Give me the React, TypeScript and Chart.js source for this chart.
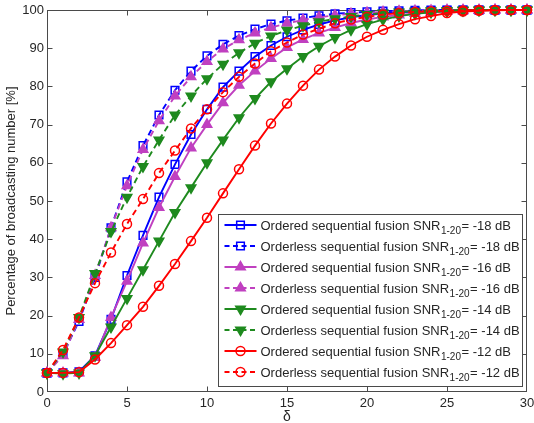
import React, { useEffect, useRef } from "react";
import { Chart, registerables } from "chart.js";

Chart.register(...registerables);

// ---- data ----
const deltaValues = [0, 1, 2, 3, 4, 5, 6, 7, 8, 9, 10, 11, 12, 13, 14, 15, 16, 17, 18, 19, 20, 21, 22, 23, 24, 25, 26, 27, 28, 29, 30];

const orderedSnr18 = [5, 5, 5.3, 9.5, 19, 30.5, 41, 51, 59.6, 67.4, 74, 79.8, 84, 87.8, 90.7, 93, 94.8, 96.2, 97.3, 98.1, 98.7, 99.1, 99.4, 99.6, 99.8, 99.9, 100, 100, 100, 100, 100];
const orderlessSnr18 = [5, 10, 18.5, 30, 43, 55, 64.5, 72.5, 79, 84, 88, 91, 93.3, 95, 96.3, 97.2, 97.9, 98.5, 99, 99.3, 99.5, 99.7, 99.8, 99.9, 100, 100, 100, 100, 100, 100, 100];
const orderedSnr16 = [5, 5, 5, 9, 19.5, 29, 39, 48.3, 56.4, 63.9, 70, 75.7, 80.3, 84, 87.3, 90.2, 92.3, 94, 95.4, 96.6, 97.5, 98.2, 98.7, 99.1, 99.4, 99.6, 99.8, 99.9, 100, 100, 100];
const orderlessSnr16 = [5, 9.5, 19, 30.5, 43, 54, 63.5, 71, 77.5, 82.5, 86.5, 89.8, 92.2, 94, 95.4, 96.5, 97.4, 98.1, 98.6, 99, 99.3, 99.5, 99.7, 99.8, 99.9, 100, 100, 100, 100, 100, 100];
const orderedSnr14 = [5, 4.8, 5, 9.5, 17, 24.5, 32, 39.5, 47, 53.5, 60, 66, 71.8, 76.8, 81.2, 84.6, 87.8, 90.5, 92.8, 94.8, 96.3, 97.5, 98.4, 99, 99.4, 99.7, 99.85, 99.95, 100, 100, 100];
const orderlessSnr14 = [5, 10.5, 19.5, 31, 42, 51, 59, 66, 72.5, 77.5, 82, 85.8, 88.8, 91.3, 93.2, 94.7, 95.9, 96.9, 97.7, 98.3, 98.8, 99.2, 99.5, 99.7, 99.8, 99.9, 100, 100, 100, 100, 100];
const orderedSnr12 = [5, 5, 5.2, 8.5, 12.8, 17.5, 22.3, 27.8, 33.5, 39.5, 45.6, 52, 58.3, 64.5, 70.3, 75.5, 80.2, 84.4, 87.8, 90.7, 93, 94.8, 96.3, 97.6, 98.4, 99.2, 99.6, 99.8, 99.9, 100, 100];
const orderlessSnr12 = [5, 11, 19.5, 28.5, 36.5, 44, 50.5, 57.3, 63.2, 69, 74, 78.5, 82.5, 86, 89.2, 91.5, 93.6, 95.1, 96.5, 97.5, 98.2, 98.8, 99.2, 99.5, 99.7, 99.8, 99.9, 100, 100, 100, 100];

const methodLabels = ["Ordered sequential fusion", "Orderless sequential fusion"];
const snrLabels = ["-18", "-16", "-14", "-12"];
const snrSubscript = "1-20";
const xTitle = "\u03b4";
const yTitle = "Percentage of broadcasting number [%]";

// ---- styles ----
const FONT = "'Liberation Sans', Arial, Helvetica, sans-serif";
const TEXT = "#262626";
const AXIS = "#4a4a4a";

type MarkerKind = "rect" | "triangle" | "triangleDown" | "circle";
const snrStyles: { color: string; marker: MarkerKind; filled: boolean }[] = [
  { color: "#0000ff", marker: "rect", filled: false },
  { color: "#c040c0", marker: "triangle", filled: true },
  { color: "#1e8a1e", marker: "triangleDown", filled: true },
  { color: "#ff0000", marker: "circle", filled: false },
];

const seriesList = [
  { method: 0, snr: 0, values: orderedSnr18 },
  { method: 1, snr: 0, values: orderlessSnr18 },
  { method: 0, snr: 1, values: orderedSnr16 },
  { method: 1, snr: 1, values: orderlessSnr16 },
  { method: 0, snr: 2, values: orderedSnr14 },
  { method: 1, snr: 2, values: orderlessSnr14 },
  { method: 0, snr: 3, values: orderedSnr12 },
  { method: 1, snr: 3, values: orderlessSnr12 },
];

const DASH = [6, 4];
const LINE_W = 1.9;

function markerRadius(m: MarkerKind) {
  if (m === "rect") return 5.4;
  if (m === "circle") return 4.5;
  return 5.5;
}

function drawMarker(ctx: CanvasRenderingContext2D, m: MarkerKind, x: number, y: number, color: string, filled: boolean) {
  ctx.save();
  ctx.setLineDash([]);
  ctx.strokeStyle = color;
  ctx.fillStyle = color;
  ctx.lineWidth = 1.5;
  ctx.beginPath();
  const r = markerRadius(m);
  if (m === "rect") {
    const s = r * Math.SQRT1_2;
    ctx.rect(x - s, y - s, 2 * s, 2 * s);
  } else if (m === "circle") {
    ctx.arc(x, y, r, 0, Math.PI * 2);
  } else {
    const sg = m === "triangle" ? 1 : -1;
    ctx.moveTo(x, y - sg * r);
    ctx.lineTo(x + r * 0.866, y + sg * r * 0.5);
    ctx.lineTo(x - r * 0.866, y + sg * r * 0.5);
    ctx.closePath();
  }
  if (filled) ctx.fill();
  ctx.stroke();
  ctx.restore();
}

const framePlugin = {
  id: "matlabFrame",
  beforeDatasetsDraw(chart: any) {
    const { ctx, chartArea, scales } = chart;
    const l = Math.round(chartArea.left) + 0.5;
    const r = Math.round(chartArea.right) - 0.5;
    const t = Math.round(chartArea.top) + 0.5;
    const b = Math.round(chartArea.bottom) - 0.5;
    ctx.save();
    ctx.fillStyle = "#ffffff";
    ctx.fillRect(l, t, r - l, b - t);
    ctx.strokeStyle = AXIS;
    ctx.lineWidth = 1;
    ctx.strokeRect(l, t, r - l, b - t);
    const tl = 5;
    ctx.beginPath();
    scales.x.ticks.forEach((tk: any) => {
      const px = Math.round(scales.x.getPixelForValue(tk.value)) + 0.5;
      if (px <= l + 1 || px >= r - 1) return;
      ctx.moveTo(px, b); ctx.lineTo(px, b - tl);
      ctx.moveTo(px, t); ctx.lineTo(px, t + tl);
    });
    scales.y.ticks.forEach((tk: any) => {
      const py = Math.round(scales.y.getPixelForValue(tk.value)) + 0.5;
      if (py <= t + 1 || py >= b - 1) return;
      ctx.moveTo(l, py); ctx.lineTo(l + tl, py);
      ctx.moveTo(r, py); ctx.lineTo(r - tl, py);
    });
    ctx.stroke();
    ctx.restore();
  },
};

const legendPlugin = {
  id: "boxLegend",
  afterDatasetsDraw(chart: any) {
    const { ctx, chartArea } = chart;
    const w = 304;
    const h = 172;
    const x0 = Math.round(chartArea.right) - 5 - w + 0.5;
    const y0 = Math.round(chartArea.bottom) - 6 - h + 0.5;
    ctx.save();
    ctx.fillStyle = "#ffffff";
    ctx.fillRect(x0, y0, w, h);
    ctx.strokeStyle = AXIS;
    ctx.lineWidth = 1;
    ctx.strokeRect(x0, y0, w, h);
    seriesList.forEach((s, i) => {
      const st = snrStyles[s.snr];
      const cy = y0 + 10.5 + i * 21;
      const lx1 = x0 + 6;
      const lx2 = x0 + 38;
      ctx.save();
      ctx.strokeStyle = st.color;
      ctx.lineWidth = LINE_W;
      ctx.setLineDash(s.method === 1 ? [5, 3.5] : []);
      ctx.beginPath();
      ctx.moveTo(lx1, cy);
      ctx.lineTo(lx2, cy);
      ctx.stroke();
      ctx.restore();
      drawMarker(ctx, st.marker, (lx1 + lx2) / 2, cy, st.color, st.filled);
      let tx = x0 + 42;
      const base = cy + 4.6;
      ctx.fillStyle = TEXT;
      ctx.textBaseline = "alphabetic";
      ctx.textAlign = "left";
      ctx.font = `13px ${FONT}`;
      const main = `${methodLabels[s.method]} SNR`;
      ctx.fillText(main, tx, base);
      tx += ctx.measureText(main).width + 0.5;
      ctx.font = `10px ${FONT}`;
      ctx.fillText(snrSubscript, tx, base + 4);
      tx += ctx.measureText(snrSubscript).width + 0.5;
      ctx.font = `13px ${FONT}`;
      ctx.fillText(`= ${snrLabels[s.snr]} dB`, tx, base);
    });
    ctx.restore();
  },
};

export default function App() {
  const canvasRef = useRef<HTMLCanvasElement | null>(null);

  useEffect(() => {
    const canvas = canvasRef.current;
    if (!canvas) return;
    const datasets = seriesList.map((s, i) => {
      const st = snrStyles[s.snr];
      return {
        label: `${methodLabels[s.method]} SNR${snrSubscript}= ${snrLabels[s.snr]} dB`,
        data: deltaValues.map((d, k) => ({ x: d, y: s.values[k] })),
        borderColor: st.color,
        backgroundColor: st.color,
        borderWidth: LINE_W,
        borderDash: s.method === 1 ? DASH : [],
        pointStyle: st.marker === "triangleDown" ? "triangle" : st.marker,
        pointRotation: st.marker === "triangleDown" ? 180 : 0,
        pointRadius: markerRadius(st.marker),
        pointBorderWidth: 1.5,
        pointBorderColor: st.color,
        pointBackgroundColor: st.filled ? st.color : "rgba(0,0,0,0)",
        tension: 0,
        fill: false,
        clip: false as any,
        order: seriesList.length - i,
      };
    });

    const chart = new Chart(canvas, {
      type: "line",
      data: { datasets },
      options: {
        animation: false,
        responsive: false,
        events: [],
        layout: { padding: { top: 10, right: 2, left: 0, bottom: 0 } },
        plugins: { legend: { display: false }, tooltip: { enabled: false } },
        scales: {
          x: {
            type: "linear",
            min: 0,
            max: 30,
            grid: { display: false, drawTicks: false },
            border: { display: false },
            ticks: { stepSize: 5, padding: 4, color: TEXT, font: { family: FONT, size: 13 }, maxRotation: 0 },
            title: { display: true, text: xTitle, color: TEXT, font: { family: FONT, size: 14 }, padding: { top: 0, bottom: -3 } },
            afterFit: (sc: any) => {
              sc.height = 31;
              sc.paddingLeft = 0;
              sc.paddingRight = 0;
            },
          },
          y: {
            min: 0,
            max: 100,
            grid: { display: false, drawTicks: false },
            border: { display: false },
            ticks: { stepSize: 10, padding: 3, color: TEXT, font: { family: FONT, size: 13 } },
            title: { display: true, text: yTitle, color: TEXT, font: { family: FONT, size: 13 }, padding: { top: 4, bottom: 0 } },
            afterFit: (sc: any) => {
              sc.width = 47;
              sc.paddingTop = 0;
              sc.paddingBottom = 0;
            },
          },
        },
      },
      plugins: [framePlugin, legendPlugin],
    });
    return () => chart.destroy();
  }, []);

  return (
    <div style={{ position: "absolute", left: 0, top: 0, width: 534, height: 423, background: "#fff" }}>
      <canvas ref={canvasRef} width={534} height={423} style={{ display: "block", width: 534, height: 423 }} />
    </div>
  );
}
